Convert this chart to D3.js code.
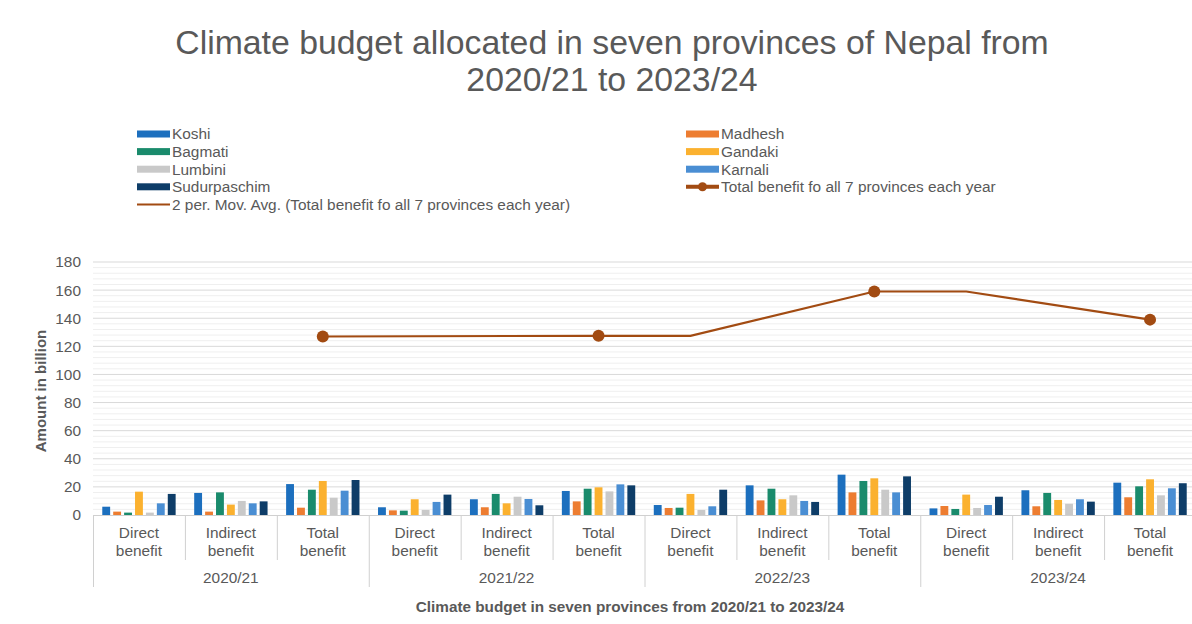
<!DOCTYPE html>
<html>
<head>
<meta charset="utf-8">
<script src="https://cdn.jsdelivr.net/npm/d3@7"></script>
<style>
  body { margin: 0; background: #fff; }
  svg { display: block; font-family: "Liberation Sans", Arial, sans-serif; }
</style>
</head>
<body>
<svg id="chart" width="1192" height="624"></svg>
<script>
// ---- data ----
const years = ["2020/21", "2021/22", "2022/23", "2023/24"];
const benefitTypes = ["Direct benefit", "Indirect benefit", "Total benefit"];
const provinces = ["Koshi", "Madhesh", "Bagmati", "Gandaki", "Lumbini", "Karnali", "Sudurpaschim"];
const provinceColors = ["#1c6fbe", "#ed7d31", "#1a8b6c", "#fbb12f", "#c9c9c9", "#4a8ed3", "#0e3d68"];

// values per category (year x benefit type), order of provinces
const koshi        = [5.9, 15.7, 22.0, 5.5, 11.2, 17.1, 7.1, 21.1, 28.7, 4.7, 17.6, 23.0];
const madhesh      = [2.4, 2.4, 5.2, 3.3, 5.5, 9.7, 5.0, 10.4, 16.1, 6.4, 6.2, 12.6];
const bagmati      = [1.7, 16.1, 18.0, 3.1, 15.0, 18.7, 5.2, 18.7, 24.2, 4.3, 15.7, 20.4];
const gandaki      = [16.6, 7.4, 24.2, 11.2, 8.3, 19.7, 15.0, 11.2, 26.1, 14.5, 10.7, 25.4];
const lumbini      = [1.7, 10.0, 12.3, 3.6, 13.0, 16.8, 3.6, 14.0, 18.0, 5.0, 8.0, 14.0];
const karnali      = [8.3, 8.3, 17.3, 9.3, 11.4, 21.8, 6.2, 10.0, 16.1, 7.1, 11.2, 19.0];
const sudurpaschim = [15.0, 9.7, 24.9, 14.5, 6.9, 21.1, 18.0, 9.3, 27.5, 13.0, 9.5, 22.6];
const provinceValues = [koshi, madhesh, bagmati, gandaki, lumbini, karnali, sudurpaschim];

// total benefit for all 7 provinces (only at "Total benefit" categories)
const totalAll = [null, null, 127, null, null, 127.5, null, null, 159, null, null, 139];
// 2 per. moving average trendline vertices (as drawn)
const movAvg = [null, null, 127, null, null, 127.5, 127.5, null, 159, 159, null, 139];

const yTicks = [0, 20, 40, 60, 80, 100, 120, 140, 160, 180];

// ---- layout ----
const svg = d3.select("#chart");
const plotL = 93, plotR = 1196, plotT = 262, plotB = 515;
const textColor = "#595959";
const fs = 15.4;

const categories = [];
years.forEach(yr => benefitTypes.forEach(b => categories.push(yr + "|" + b)));

const x = d3.scaleBand().domain(categories).range([plotL, plotR]).paddingInner(0).paddingOuter(0);
const y = d3.scaleLinear().domain([0, 180]).range([plotB, plotT]);
const xInner = d3.scaleBand().domain(provinces).range([0, x.bandwidth()]).paddingInner(0.28).paddingOuter(0.85);

// title
svg.append("text").attr("x", 612).attr("y", 54).attr("text-anchor", "middle")
  .attr("font-size", 33.8).attr("fill", textColor).text("Climate budget allocated in seven provinces of Nepal from");
svg.append("text").attr("x", 612).attr("y", 91).attr("text-anchor", "middle")
  .attr("font-size", 33.8).attr("fill", textColor).text("2020/21 to 2023/24");

// minor gridlines
const minor = d3.range(4, 180, 4).filter(v => v % 20 !== 0);
svg.append("g").selectAll("line").data(minor).join("line")
  .attr("x1", plotL).attr("x2", plotR).attr("y1", d => y(d)).attr("y2", d => y(d))
  .attr("stroke", "#efefef").attr("stroke-width", 1);
// major gridlines
svg.append("g").selectAll("line").data(yTicks.filter(d => d > 0)).join("line")
  .attr("x1", plotL).attr("x2", plotR).attr("y1", d => y(d)).attr("y2", d => y(d))
  .attr("stroke", "#d9d9d9").attr("stroke-width", 1);

// y axis labels
const yAxis = d3.axisLeft(y).tickValues(yTicks).tickSize(0).tickPadding(12);
const gy = svg.append("g").attr("transform", `translate(${plotL},0)`).call(yAxis);
gy.select(".domain").remove();
gy.selectAll("text").attr("font-size", fs).attr("fill", textColor).attr("font-family", "Liberation Sans, Arial, sans-serif");

// y axis title
svg.append("text").attr("transform", "translate(46,391) rotate(-90)").attr("text-anchor", "middle")
  .attr("font-size", 15).attr("font-weight", "bold").attr("fill", textColor).text("Amount in billion");

// bars
const gBars = svg.append("g");
provinces.forEach((p, pi) => {
  gBars.append("g").selectAll("rect").data(provinceValues[pi]).join("rect")
    .attr("x", (d, i) => x(categories[i]) + xInner(p))
    .attr("width", xInner.bandwidth())
    .attr("y", d => y(d))
    .attr("height", d => y(0) - y(d))
    .attr("fill", provinceColors[pi]);
});

// x axis baseline and separators
const axisColor = "#d0d0d0";
svg.append("line").attr("x1", plotL).attr("x2", plotR).attr("y1", plotB + 0.5).attr("y2", plotB + 0.5)
  .attr("stroke", axisColor);
categories.forEach((c, i) => {
  const isYearEdge = i % 3 === 0;
  svg.append("line").attr("x1", x(c) + 0.5).attr("x2", x(c) + 0.5)
    .attr("y1", plotB).attr("y2", isYearEdge ? 587 : 560).attr("stroke", axisColor);
});
svg.append("line").attr("x1", plotR - 0.5).attr("x2", plotR - 0.5).attr("y1", plotB).attr("y2", 587).attr("stroke", axisColor);

// category labels
categories.forEach(c => {
  const b = c.split("|")[1].split(" ");
  const cx = x(c) + x.bandwidth() / 2;
  svg.append("text").attr("x", cx).attr("y", 538).attr("text-anchor", "middle")
    .attr("font-size", fs).attr("fill", textColor).text(b[0]);
  svg.append("text").attr("x", cx).attr("y", 556).attr("text-anchor", "middle")
    .attr("font-size", fs).attr("fill", textColor).text(b[1]);
});
years.forEach(yr => {
  const x0 = x(yr + "|" + benefitTypes[0]);
  const x1 = x(yr + "|" + benefitTypes[2]) + x.bandwidth();
  svg.append("text").attr("x", (x0 + x1) / 2).attr("y", 583).attr("text-anchor", "middle")
    .attr("font-size", fs).attr("fill", textColor).text(yr);
});

// x axis title
svg.append("text").attr("x", 630).attr("y", 612).attr("text-anchor", "middle")
  .attr("font-size", 15.3).attr("font-weight", "bold").attr("fill", textColor)
  .text("Climate budget in seven provinces from 2020/21 to 2023/24");

// moving average line
const lineColor = "#a24b12";
const maPts = movAvg.map((v, i) => ({ v, i })).filter(d => d.v !== null);
const line = d3.line().x(d => x(categories[d.i]) + x.bandwidth() / 2).y(d => y(d.v));
svg.append("path").datum(maPts).attr("d", line).attr("fill", "none")
  .attr("stroke", lineColor).attr("stroke-width", 2.2);

// total markers
const totPts = totalAll.map((v, i) => ({ v, i })).filter(d => d.v !== null);
svg.append("g").selectAll("circle").data(totPts).join("circle")
  .attr("cx", d => x(categories[d.i]) + x.bandwidth() / 2).attr("cy", d => y(d.v))
  .attr("r", 6).attr("fill", lineColor);

// legend
const legendItems = [
  { name: "Koshi", type: "bar", color: provinceColors[0], col: 0, row: 0 },
  { name: "Madhesh", type: "bar", color: provinceColors[1], col: 1, row: 0 },
  { name: "Bagmati", type: "bar", color: provinceColors[2], col: 0, row: 1 },
  { name: "Gandaki", type: "bar", color: provinceColors[3], col: 1, row: 1 },
  { name: "Lumbini", type: "bar", color: provinceColors[4], col: 0, row: 2 },
  { name: "Karnali", type: "bar", color: provinceColors[5], col: 1, row: 2 },
  { name: "Sudurpaschim", type: "bar", color: provinceColors[6], col: 0, row: 3 },
  { name: "Total benefit fo all 7 provinces each year", type: "marker", color: lineColor, col: 1, row: 3 },
  { name: "2 per. Mov. Avg. (Total benefit fo all 7 provinces each year)", type: "line", color: lineColor, col: 0, row: 4 }
];
const legendX = [137, 686], legendY0 = 134, legendDy = 17.6;
const gl = svg.append("g");
legendItems.forEach(it => {
  const lx = legendX[it.col], ly = legendY0 + it.row * legendDy;
  if (it.type === "bar") {
    gl.append("rect").attr("x", lx).attr("y", ly - 3.5).attr("width", 33).attr("height", 7).attr("fill", it.color);
  } else if (it.type === "marker") {
    gl.append("line").attr("x1", lx).attr("x2", lx + 33).attr("y1", ly).attr("y2", ly)
      .attr("stroke", it.color).attr("stroke-width", 4);
    gl.append("circle").attr("cx", lx + 16.5).attr("cy", ly).attr("r", 4.5).attr("fill", it.color);
  } else {
    gl.append("line").attr("x1", lx).attr("x2", lx + 33).attr("y1", ly).attr("y2", ly)
      .attr("stroke", it.color).attr("stroke-width", 2);
  }
  gl.append("text").attr("x", lx + 35).attr("y", ly + 5.3).attr("font-size", fs)
    .attr("fill", textColor).text(it.name);
});
</script>
</body>
</html>
